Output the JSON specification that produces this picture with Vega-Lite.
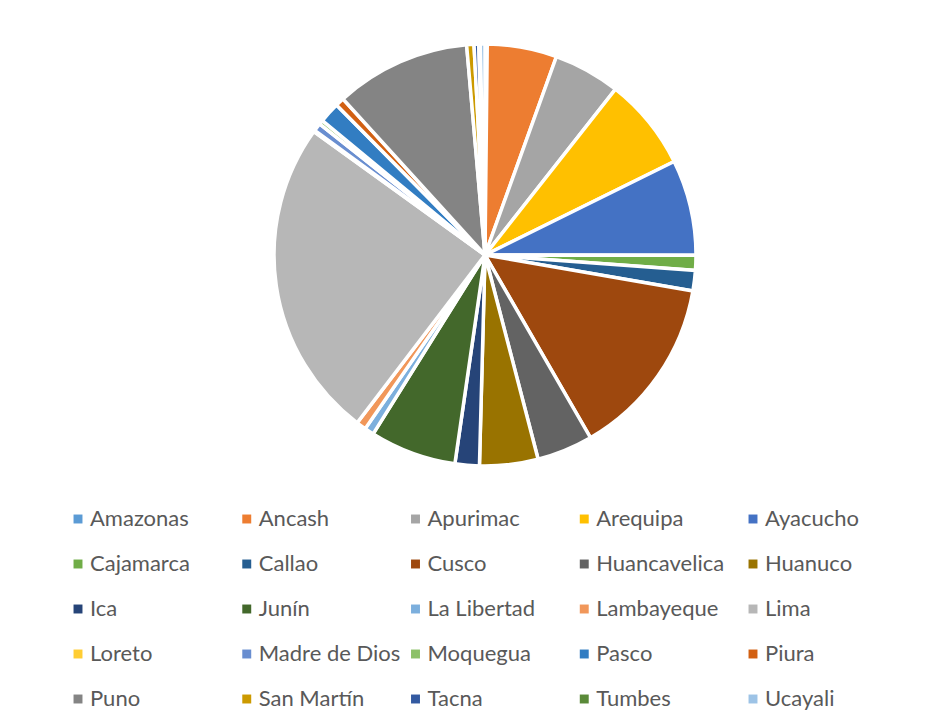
{
  "$schema": "https://vega.github.io/schema/vega-lite/v6.json",
  "width": 430,
  "height": 430,
  "autosize": "none",
  "padding": {"left": 270, "top": 40, "right": 244, "bottom": 252},
  "background": "white",
  "config": {"view": {"stroke": null}},
  "data": {
    "values": [
      {"idx": 1, "region": "Amazonas", "pct": 0.17},
      {"idx": 2, "region": "Ancash", "pct": 5.33},
      {"idx": 3, "region": "Apurimac", "pct": 5.11},
      {"idx": 4, "region": "Arequipa", "pct": 7.08},
      {"idx": 5, "region": "Ayacucho", "pct": 7.33},
      {"idx": 6, "region": "Cajamarca", "pct": 1.14},
      {"idx": 7, "region": "Callao", "pct": 1.56},
      {"idx": 8, "region": "Cusco", "pct": 13.94},
      {"idx": 9, "region": "Huancavelica", "pct": 4.28},
      {"idx": 10, "region": "Huanuco", "pct": 4.47},
      {"idx": 11, "region": "Ica", "pct": 1.86},
      {"idx": 12, "region": "Junín", "pct": 6.61},
      {"idx": 13, "region": "La Libertad", "pct": 0.72},
      {"idx": 14, "region": "Lambayeque", "pct": 0.75},
      {"idx": 15, "region": "Lima", "pct": 24.58},
      {"idx": 16, "region": "Loreto", "pct": 0.11},
      {"idx": 17, "region": "Madre de Dios", "pct": 0.61},
      {"idx": 18, "region": "Moquegua", "pct": 0.33},
      {"idx": 19, "region": "Pasco", "pct": 1.58},
      {"idx": 20, "region": "Piura", "pct": 0.67},
      {"idx": 21, "region": "Puno", "pct": 10.36},
      {"idx": 22, "region": "San Martín", "pct": 0.56},
      {"idx": 23, "region": "Tacna", "pct": 0.36},
      {"idx": 24, "region": "Tumbes", "pct": 0.11},
      {"idx": 25, "region": "Ucayali", "pct": 0.36}
    ]
  },
  "mark": {"type": "arc", "outerRadius": 211, "stroke": "white", "strokeWidth": 3.5},
  "encoding": {
    "theta": {"field": "pct", "type": "quantitative", "stack": true},
    "order": {"field": "idx", "type": "quantitative", "sort": "ascending"},
    "color": {
      "field": "region",
      "type": "nominal",
      "scale": {
        "domain": ["Amazonas", "Ancash", "Apurimac", "Arequipa", "Ayacucho", "Cajamarca", "Callao", "Cusco", "Huancavelica", "Huanuco", "Ica", "Junín", "La Libertad", "Lambayeque", "Lima", "Loreto", "Madre de Dios", "Moquegua", "Pasco", "Piura", "Puno", "San Martín", "Tacna", "Tumbes", "Ucayali"],
        "range": ["#5B9BD5", "#ED7D31", "#A5A5A5", "#FFC000", "#4472C4", "#70AD47", "#255E91", "#9E480E", "#636363", "#997300", "#264478", "#43682B", "#7CAFDD", "#F1975A", "#B7B7B7", "#FFCD33", "#698ED0", "#8CC168", "#327DC2", "#D26012", "#848484", "#CC9A00", "#335AA1", "#5A8A39", "#9DC3E6"]
      },
      "legend": {
        "title": null,
        "orient": "none",
        "legendX": -203,
        "legendY": 468,
        "direction": "horizontal",
        "columns": 5,
        "gridAlign": "all",
        "columnPadding": 3.75,
        "rowPadding": 23,
        "padding": 0,
        "symbolType": "square",
        "symbolSize": 80,
        "symbolStrokeWidth": 0,
        "labelFont": "Lato",
        "labelFontSize": 22,
        "labelColor": "#595959",
        "labelOffset": 1,
        "labelLimit": 400
      }
    }
  }
}
